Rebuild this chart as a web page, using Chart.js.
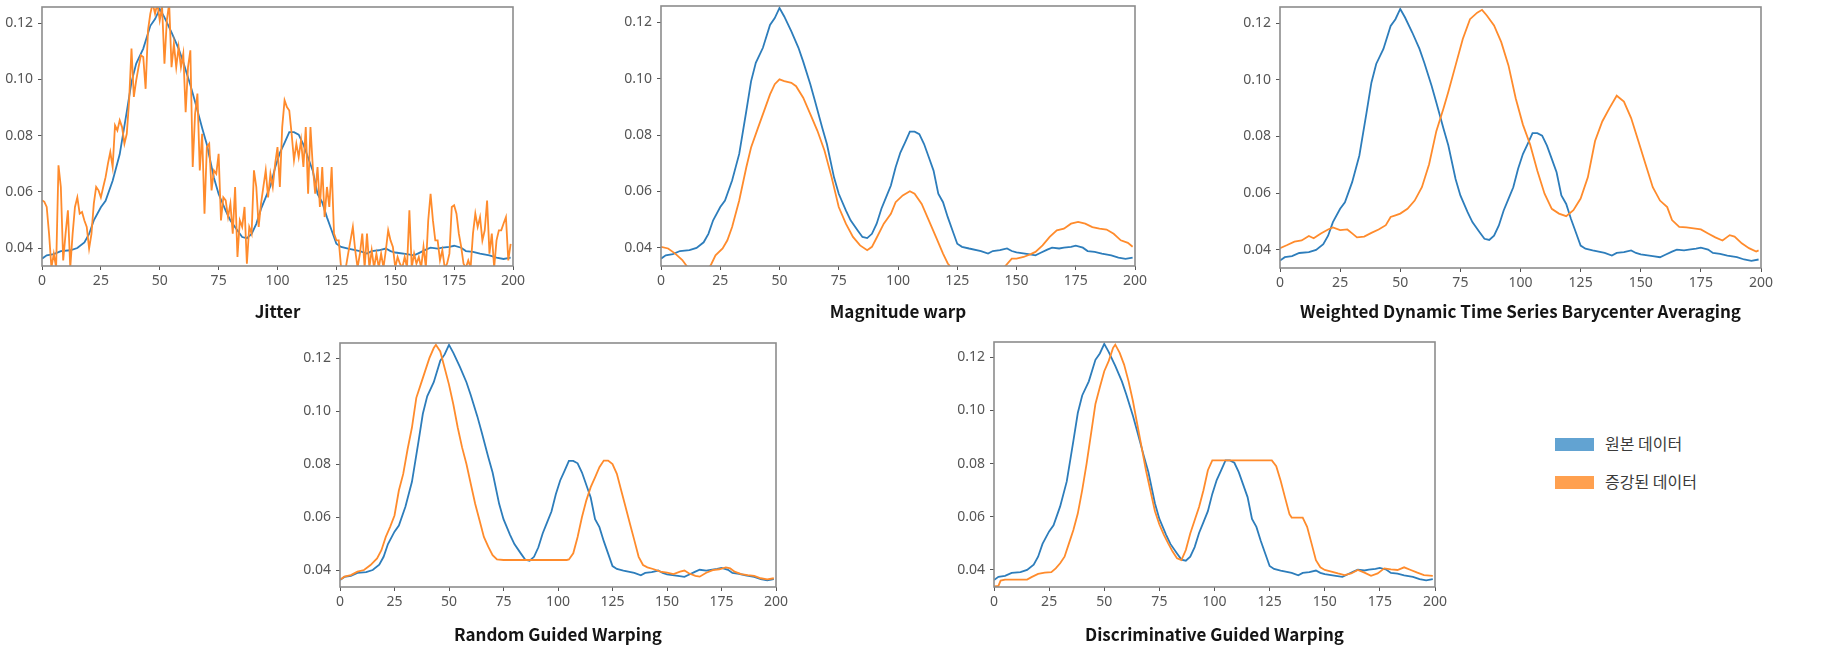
<!DOCTYPE html>
<html><head><meta charset="utf-8">
<script src="https://cdn.jsdelivr.net/npm/chart.js@4.4.1/dist/chart.umd.min.js"></script>
<style>
html,body{margin:0;padding:0;background:#fff;width:1825px;height:654px;overflow:hidden;position:relative}
canvas{position:absolute}
.lg{position:absolute;left:1555px;font-family:"Noto Sans CJK KR","Noto Sans",sans-serif;font-size:16px;color:#3a3a3a;line-height:20px;height:20px;white-space:nowrap}
.lg span{display:inline-block;width:39px;height:13px;vertical-align:middle;margin-right:11px;position:relative;top:-1px}
</style></head><body>
<div class="lg" style="top:433px"><span style="background:#62a3d2"></span>원본 데이터</div>
<div class="lg" style="top:471px"><span style="background:#ffa04f"></span>증강된 데이터</div>
<script>
// ---------- data ----------
const seriesNames = ['원본 데이터', '증강된 데이터'];
const panelTitles = ['Jitter','Magnitude warp','Weighted Dynamic Time Series Barycenter Averaging','Random Guided Warping','Discriminative Guided Warping'];
const xTicks = [0,25,50,75,100,125,150,175,200];
const yTicks = [0.04,0.06,0.08,0.10,0.12];

const blueX = [0,2,5,8,12,15,18,20,22,25,27,30,33,36,38,40,43,46,48,50,52,55,58,60,63,65,68,70,73,75,78,80,83,85,87,89,91,93,95,97,99,101,103,105,107,109,111,113,115,117,119,121,123,125,127,130,135,138,140,143,146,148,150,155,158,160,163,165,168,170,173,175,178,180,183,186,190,193,196,199];
const blueY = [0.0362,0.0374,0.0378,0.0389,0.0392,0.0400,0.0420,0.0450,0.0498,0.0545,0.0568,0.0639,0.0733,0.0885,0.0990,0.1056,0.1109,0.1190,0.1214,0.1250,0.1220,0.1167,0.1109,0.1060,0.0980,0.0920,0.0827,0.0768,0.0650,0.0592,0.0533,0.0498,0.0462,0.0439,0.0435,0.0450,0.0486,0.0539,0.0580,0.0621,0.0686,0.0738,0.0774,0.0812,0.0812,0.0803,0.0768,0.0721,0.0674,0.0592,0.0562,0.0509,0.0462,0.0415,0.0404,0.0398,0.0389,0.0380,0.0389,0.0392,0.0398,0.0389,0.0384,0.0378,0.0374,0.0382,0.0394,0.0401,0.0398,0.0401,0.0404,0.0408,0.0401,0.0389,0.0386,0.0380,0.0374,0.0366,0.0361,0.0366];

const jitterY = [
0.057,0.0564,0.0546,0.045,0.033,0.038,0.033,0.0694,0.0617,0.0356,
0.045,0.0534,0.033,0.045,0.0546,0.058,0.0522,0.0528,0.0498,0.0475,
0.0398,0.045,0.0558,0.0617,0.0605,0.058,0.0617,0.0652,0.07,0.0741,
0.0688,0.0836,0.0818,0.0854,0.083,0.0771,0.0806,0.0925,0.1109,0.0937,
0.0996,0.1043,0.1085,0.1079,0.0966,0.1174,0.1233,0.127,0.1233,0.127,
0.1209,0.1257,0.1055,0.1209,0.127,0.1043,0.1126,0.1043,0.1114,0.1043,
0.1091,0.0883,0.1043,0.1103,0.0688,0.0877,0.0949,0.0676,0.0806,0.0522,
0.0759,0.0771,0.0605,0.0676,0.0664,0.0735,0.0498,0.058,0.0569,0.051,
0.0558,0.0451,0.0617,0.0368,0.0498,0.0475,0.0546,0.0344,0.0475,0.0451,
0.0676,0.0617,0.0475,0.0558,0.0617,0.0676,0.058,0.0664,0.0617,0.07,
0.0759,0.0617,0.083,0.0925,0.0901,0.0889,0.0806,0.0712,0.0771,0.0723,
0.0783,0.0688,0.083,0.0593,0.083,0.0688,0.0593,0.0688,0.0546,0.0688,
0.051,0.0617,0.0546,0.0688,0.0451,0.0427,0.0427,0.033,0.033,0.033,
0.038,0.0427,0.0475,0.0392,0.033,0.038,0.0451,0.033,0.0451,0.033,
0.0392,0.033,0.038,0.033,0.038,0.033,0.0392,0.0463,0.0427,0.0404,
0.033,0.0368,0.0344,0.033,0.0368,0.033,0.0534,0.033,0.038,0.0344,
0.0368,0.033,0.0404,0.033,0.0498,0.0593,0.0498,0.0427,0.0427,0.0356,
0.0392,0.033,0.0344,0.038,0.0546,0.0552,0.0522,0.0451,0.0404,0.0344,
0.033,0.0356,0.033,0.0451,0.0522,0.0475,0.051,0.0427,0.0463,0.0569,
0.038,0.0451,0.033,0.0427,0.0463,0.0463,0.0487,0.051,0.0356,0.0415];

const magX = [0,3,6,9,11,13,17,21,23,26,28,30,33,36,38,41,44,46,48,50,52,55,57,60,63,66,69,72,75,78,81,84,87,89,91,94,97,99,102,105,107,110,113,116,119,121,123,130,140,145,148,150,153,156,158,161,164,167,170,173,176,179,182,185,188,191,194,197,199];
const magY = [0.0404,0.0398,0.0380,0.0357,0.0334,0.0310,0.0300,0.0339,0.0374,0.0398,0.0427,0.0474,0.0568,0.0686,0.0756,0.0827,0.0897,0.0944,0.0980,0.0997,0.0991,0.0985,0.0973,0.0932,0.0874,0.0815,0.0744,0.0650,0.0545,0.0486,0.0439,0.0409,0.0392,0.0404,0.0436,0.0486,0.0521,0.0562,0.0586,0.0601,0.0592,0.0556,0.0498,0.0439,0.0380,0.0345,0.0325,0.0290,0.0300,0.0333,0.0362,0.0362,0.0368,0.0378,0.0386,0.0409,0.0439,0.0462,0.0468,0.0486,0.0492,0.0486,0.0474,0.0468,0.0465,0.0450,0.0427,0.0418,0.0404];

const wdbaX = [0,3,6,9,12,14,17,20,22,25,28,30,32,35,38,41,44,46,48,50,53,56,59,62,65,68,70,73,76,79,82,84,86,89,92,95,98,101,104,107,110,113,116,119,122,125,128,131,134,137,140,143,146,149,152,155,158,161,163,166,169,172,175,178,181,184,187,189,192,195,198,199];
const wdbaY = [0.0406,0.0417,0.0429,0.0433,0.0449,0.0441,0.0458,0.0472,0.0479,0.0470,0.0472,0.0458,0.0444,0.0447,0.0460,0.0472,0.0487,0.0516,0.0522,0.0528,0.0545,0.0574,0.0621,0.0702,0.0819,0.0900,0.0958,0.1051,0.1144,0.1214,0.1237,0.1247,0.1227,0.1192,0.1133,0.1051,0.0935,0.0842,0.0772,0.0679,0.0598,0.0545,0.0528,0.0519,0.0540,0.0581,0.0656,0.0784,0.0853,0.0900,0.0944,0.0923,0.0865,0.0784,0.0702,0.0621,0.0574,0.0551,0.0505,0.0481,0.0479,0.0476,0.0472,0.0458,0.0444,0.0433,0.0452,0.0447,0.0423,0.0406,0.0394,0.0398];

const rgwX = [0,2,5,8,11,14,17,19,21,23,25,27,29,31,33,35,37,39,41,43,44,46,48,50,52,54,56,58,60,62,64,66,68,70,72,75,104,105,107,109,111,113,115,117,119,121,123,125,127,129,131,133,135,137,139,141,144,147,150,153,156,158,160,163,165,168,171,174,177,179,181,184,187,190,193,196,199];
const rgwY = [0.0363,0.0375,0.0381,0.0394,0.0400,0.0419,0.0444,0.0475,0.0525,0.0563,0.0606,0.0700,0.0763,0.0856,0.0938,0.1050,0.1100,0.1150,0.1200,0.1238,0.1250,0.1225,0.1163,0.1100,0.1025,0.0938,0.0863,0.0800,0.0725,0.0650,0.0588,0.0525,0.0488,0.0456,0.0440,0.0438,0.0438,0.0440,0.0463,0.0525,0.0600,0.0663,0.0713,0.0750,0.0788,0.0813,0.0813,0.0800,0.0763,0.0700,0.0638,0.0575,0.0513,0.0450,0.0419,0.0410,0.0403,0.0394,0.0390,0.0385,0.0394,0.0398,0.0388,0.0378,0.0375,0.0390,0.0400,0.0403,0.0410,0.0406,0.0394,0.0385,0.0381,0.0378,0.0369,0.0365,0.0369];

const dgwX = [0,2,3,5,10,15,17,20,23,26,28,30,32,34,36,38,40,42,44,46,48,50,52,54,55,57,59,61,63,65,67,69,71,73,75,77,79,81,83,85,87,89,91,93,95,97,99,101,126,128,130,132,134,135,140,142,144,146,148,150,153,156,159,162,165,168,171,174,177,180,183,186,189,192,195,199];
const dgwY = [0.0338,0.0340,0.0360,0.0364,0.0364,0.0364,0.0373,0.0385,0.0390,0.0392,0.0406,0.0425,0.0450,0.0500,0.0550,0.0612,0.0700,0.0800,0.0912,0.1024,0.1087,0.1147,0.1185,0.1235,0.1247,0.1216,0.1172,0.1110,0.1035,0.0947,0.0859,0.0771,0.0696,0.0621,0.0571,0.0533,0.0500,0.0469,0.0444,0.0437,0.0475,0.0537,0.0587,0.0637,0.0700,0.0775,0.0812,0.0812,0.0812,0.0790,0.0735,0.0672,0.0610,0.0597,0.0597,0.0562,0.0500,0.0437,0.0410,0.0400,0.0394,0.0387,0.0381,0.0387,0.0400,0.0390,0.0378,0.0387,0.0406,0.0402,0.0400,0.0410,0.0400,0.0390,0.0381,0.0378];

const Y_MIN = 0.0336, Y_MAX = 0.1257, X_MIN = 0, X_MAX = 200;

// ---------- build ----------
const pts = (xs, ys) => ys.map((y, i) => ({x: xs[i], y}));
const idx = ys => ys.map((y, i) => ({x: i, y}));
const orangeSets = [idx(jitterY), pts(magX, magY), pts(wdbaX, wdbaY), pts(rgwX, rgwY), pts(dgwX, dgwY)];

// layout (pixel boxes of each plot area)
const boxes = [
  {L:42,  T:7,   R:513,  B:266, ty:312},
  {L:661, T:6,   R:1135, B:266, ty:312},
  {L:1280,T:7,   R:1761, B:268, ty:312},
  {L:340, T:343, R:776,  B:587, ty:635},
  {L:994, T:342, R:1435, B:587, ty:635}
];
const BLUE = '#2d7dbb', ORANGE = '#ff8b2c';
const TITLE_FONT = {family:'"Noto Sans CJK KR","Noto Sans",sans-serif', size:17, weight:'bold', lineHeight:1.2};

const framePlugin = {
  id:'frame',
  afterDatasetsDraw(chart){
    const a = chart.chartArea, ctx = chart.ctx;
    ctx.save();
    ctx.strokeStyle = '#8c8c8c'; ctx.lineWidth = 1.6;
    ctx.strokeRect(a.left, a.top, a.right - a.left, a.bottom - a.top);
    ctx.restore();
  }
};

boxes.forEach((b, k) => {
  const yW = 60, padT = 8, padR = 22;
  const H = b.ty + 10 - b.B;
  const c = document.createElement('canvas');
  const w = (b.R - b.L) + yW + padR, h = padT + (b.B - b.T) + H;
  c.width = w; c.height = h;
  c.style.left = (b.L - yW) + 'px'; c.style.top = (b.T - padT) + 'px';
  c.style.width = w + 'px'; c.style.height = h + 'px';
  document.body.appendChild(c);
  new Chart(c, {
    type:'line',
    data:{datasets:[
      {label:seriesNames[0], data:pts(blueX, blueY), borderColor:BLUE, order:1},
      {label:seriesNames[1], data:orangeSets[k], borderColor:ORANGE, order:0}
    ]},
    options:{
      responsive:false, animation:false, devicePixelRatio:1,
      layout:{padding:{left:0, top:padT, right:padR, bottom:0}},
      plugins:{legend:{display:false}, tooltip:{enabled:false}},
      elements:{point:{radius:0}, line:{borderWidth:1.8, tension:0, fill:false}},
      scales:{
        x:{
          type:'linear', min:X_MIN, max:X_MAX,
          afterBuildTicks:s => { s.ticks = xTicks.map(v => ({value:v})); },
          afterFit:s => { s.height = H; s.paddingLeft = 0; s.paddingRight = 0; },
          ticks:{font:{family:'"Noto Sans",sans-serif', size:14}, color:'#555', padding:3, maxRotation:0, autoSkip:false, callback:v => String(v)},
          grid:{drawOnChartArea:false, tickLength:4, color:'#555'},
          border:{display:false},
          title:{display:true, text:panelTitles[k], font:TITLE_FONT, color:'#151515', padding:0}
        },
        y:{
          type:'linear', min:Y_MIN, max:Y_MAX,
          afterBuildTicks:s => { s.ticks = yTicks.map(v => ({value:v})); },
          afterFit:s => { s.width = yW; s.paddingTop = 0; s.paddingBottom = 0; },
          ticks:{font:{family:'"Noto Sans",sans-serif', size:14}, color:'#555', padding:5, autoSkip:false, callback:v => v.toFixed(2)},
          grid:{drawOnChartArea:false, tickLength:4, color:'#555'},
          border:{display:false}
        }
      }
    },
    plugins:[framePlugin]
  });
});
</script>
</body></html>
